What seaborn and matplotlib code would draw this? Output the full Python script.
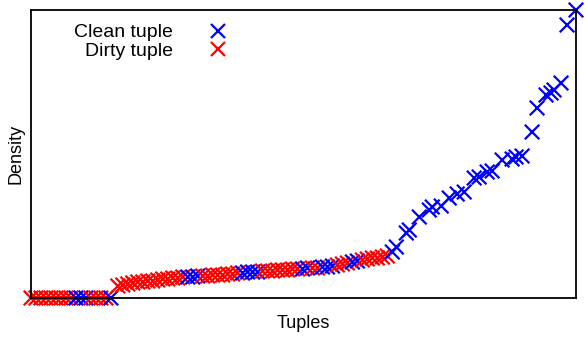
import numpy as np
import pandas as pd
import seaborn as sns
import matplotlib.pyplot as plt

# tuples sorted by density (arbitrary units, no tick labels in the original)
flat_x = [0, 5, 10, 15, 20, 25, 30, 35, 40, 45, 50, 55, 60, 65, 70, 75, 80]
flat_y = [0] * 17
flat_kind = ["D"] * 9 + ["C"] * 3 + ["D"] * 4 + ["C"]

mid_x = [87, 92, 97, 102, 107, 112, 117, 122, 127, 132, 137, 142, 147, 152, 157,
         162, 167, 172, 177, 182, 187, 192, 197, 202, 207, 212, 217, 222, 227, 232,
         237, 242, 247, 252, 257, 262, 267, 272, 277, 282, 287, 292, 297, 302, 307,
         312, 317, 322, 327, 332, 337, 342, 347, 352, 357]
mid_y = [12, 13, 14, 15, 16, 16, 17, 17, 18, 19, 19, 20, 20, 21, 21,
         21, 22, 22, 22, 23, 23, 23, 24, 24, 25, 25, 26, 26, 26, 27,
         27, 27, 28, 28, 28, 29, 29, 29, 30, 30, 30, 31, 31, 32, 33,
         34, 35, 36, 37, 38, 39, 40, 40, 41, 42]
mid_kind = (["D"] * 14 + ["C"] * 3 + ["D"] * 8 + ["C"] * 4 + ["D"] * 8
            + ["C"] * 2 + ["D"] * 2 + ["C"] * 3 + ["D"] * 3 + ["C"] * 2 + ["D"] * 6)

steep_x = [362, 366, 376, 379, 389, 399, 402, 411, 419, 427, 434, 444, 449, 457,
           462, 472, 482, 486, 492, 502, 507, 516, 521, 524, 531, 537, 546]
steep_y = [46, 51, 65, 68, 81, 88, 91, 92, 100, 104, 106, 120, 121, 126,
           127, 138, 139, 141, 142, 166, 190, 203, 205, 208, 215, 273, 288]
steep_kind = ["C"] * 27

names = {"C": "Clean tuple", "D": "Dirty tuple"}

df = pd.DataFrame({
    "x": flat_x + mid_x + steep_x,
    "y": flat_y + mid_y + steep_y,
    "kind": [names[k] for k in flat_kind + mid_kind + steep_kind],
})

sns.set_style("white")
plt.rcParams["font.family"] = ["Liberation Sans", "DejaVu Sans"]
plt.rcParams["text.color"] = "black"
plt.rcParams["axes.labelcolor"] = "black"

fig = plt.figure(figsize=(5.85, 3.39), dpi=100)
ax = fig.add_axes([31 / 585, 41 / 339, 545 / 585, 288 / 339])

sns.scatterplot(data=df, x="x", y="y", hue="kind", marker="x",
                palette={"Clean tuple": "#0000ff", "Dirty tuple": "#ff0000"},
                hue_order=["Clean tuple", "Dirty tuple"],
                s=110, linewidth=1.6, clip_on=False, ax=ax)

ax.set_xlim(0, 546)
ax.set_ylim(0, 288)
ax.set_xticks([])
ax.set_yticks([])
ax.set_xlabel("Tuples", fontsize=13, labelpad=12)
ax.set_ylabel("Density", fontsize=13, labelpad=5)
for sp in ax.spines.values():
    sp.set_color("black")
    sp.set_linewidth(1.3)

handles, labels = ax.get_legend_handles_labels()
ax.legend(handles, labels, loc="upper left", bbox_to_anchor=(0.079, 0.952),
          frameon=False, markerfirst=False, fontsize=14, borderpad=0,
          borderaxespad=0, handletextpad=1.3, handlelength=2, labelspacing=0.05)

fig.savefig("out.png", dpi=100)
